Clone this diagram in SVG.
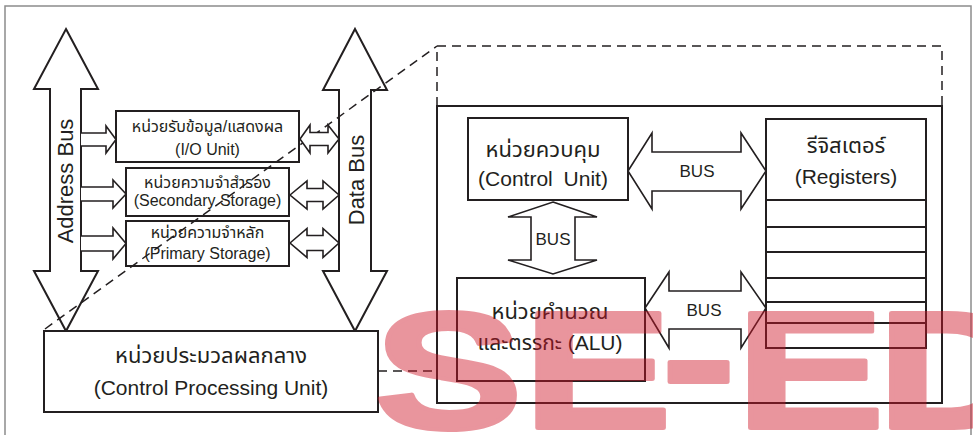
<svg xmlns="http://www.w3.org/2000/svg" width="973" height="435" viewBox="0 0 973 435">
<style>
.bg{fill:#ffffff}
.frame{fill:none;stroke:#8c8c8c;stroke-width:1.5}
.box{fill:#ffffff;stroke:#231f20;stroke-width:2}
.arr{fill:#ffffff;stroke:#231f20;stroke-width:1.6;stroke-linejoin:miter}
.bus{fill:#ffffff;stroke:#231f20;stroke-width:2;stroke-linejoin:miter}
.dash{fill:none;stroke:#231f20;stroke-width:1.5;stroke-dasharray:9 6}
.ln{fill:none;stroke:#231f20;stroke-width:1.8}
text{font-family:'Liberation Sans','Noto Sans Thai','Noto Sans',sans-serif;fill:#231f20;text-anchor:middle}
.s{font-size:16px}
.m{font-size:21px}
.t{font-size:22px}
.b{font-size:17px}
.bl{font-size:22px}
.wm{font-family:'Liberation Sans',Arial,sans-serif;font-weight:bold;font-size:168px;fill:#cf1628;stroke:#cf1628;stroke-width:4;stroke-linejoin:round;text-anchor:start}
</style>
<rect class="bg" x="0" y="0" width="973" height="435"/>
<rect class="frame" x="5" y="6" width="966" height="440"/>

<g id="address-bus">
<path class="bus" d="M66,29 L98,89 L81,89 L81,271 L98,271 L66,331 L34,271 L50,271 L50,89 L34,89 Z"/>
<text class="bl" transform="translate(73,181) rotate(-90)">Address Bus</text>
</g>
<g id="data-bus">
<path class="bus" d="M355,29 L387,90 L371,90 L371,271 L387,271 L355,331 L323,271 L339,271 L339,90 L323,90 Z"/>
<text class="bl" transform="translate(364,180) rotate(-90)">Data Bus</text>
</g>

<g id="io-unit">
<rect class="box" x="116" y="111" width="183" height="51"/>
<text class="s" x="207.5" y="132">หน่วยรับข้อมูล/แสดงผล</text>
<text class="s" x="207.5" y="155">(I/O Unit)</text>
</g>
<g id="secondary-storage">
<rect class="box" x="126" y="168" width="163" height="48"/>
<text class="s" x="207.5" y="188">หน่วยความจำสำรอง</text>
<text class="s" x="207.5" y="206">(Secondary Storage)</text>
</g>
<g id="primary-storage">
<rect class="box" x="126" y="221" width="163" height="45"/>
<text class="s" x="207.5" y="238">หน่วยความจำหลัก</text>
<text class="s" x="207.5" y="259">(Primary Storage)</text>
</g>

<g id="cpu">
<rect class="box" x="44" y="331" width="334" height="81"/>
<text class="t" x="211" y="363">หน่วยประมวลผลกลาง</text>
<text class="m" x="211" y="395">(Control Processing Unit)</text>
</g>

<g id="cpu-detail">
<rect class="box" x="437" y="106" width="505" height="297"/>
</g>

<g id="control-unit">
<rect class="box" x="468" y="118" width="160" height="82"/>
<text class="t" x="543" y="157">หน่วยควบคุม</text>
<text class="m" x="543" y="186" word-spacing="5">(Control Unit)</text>
</g>

<g id="registers">
<rect class="box" x="766" y="119" width="160" height="229"/>
<path class="ln" d="M766,200 H926 M766,227 H926 M766,252 H926 M766,278 H926 M766,302 H926 M766,323 H926"/>
<text class="t" x="846" y="153">รีจิสเตอร์</text>
<text class="m" x="846" y="184">(Registers)</text>
</g>

<g id="alu">
<rect class="box" x="457" y="278" width="188" height="103"/>
<text class="t" x="550" y="319">หน่วยคำนวณ</text>
<text class="m" x="550" y="350">และตรรกะ (ALU)</text>
</g>

<g id="connectors">
<path class="dash" d="M437,106 V46 H942 V106"/>
<path class="dash" d="M45,329 L437,46"/>
<path class="dash" d="M378,371 H437"/>

<path class="arr" d="M81,133 H106 V126 L116,139.5 L106,153 V146 H81"/>
<path class="arr" d="M81,187 H113 V180 L126,194 L113,208 V201 H81"/>
<path class="arr" d="M81,236 H113 V228 L126,243.5 L113,259 V251 H81"/>

<path class="arr" d="M300,139 L310,125 V132.5 H328 V125 L339,139 L328,153 V145.5 H310 V153 Z"/>
<path class="arr" d="M290,195 L307,181 V188.5 H323 V181 L339,195 L323,209 V201.5 H307 V209 Z"/>
<path class="arr" d="M290,243 L307,228.5 V235.5 H323 V228.5 L339,243 L323,257.5 V250.5 H307 V257.5 Z"/>

<path class="arr" d="M628,171 L652,133 V152 H741 V133 L766,171 L741,209 V191 H652 V209 Z"/>
<text class="b" x="697" y="177">BUS</text>
<path class="arr" d="M553,202 L597,217 H575 V260 H597 L553,274 L508,260 H531 V217 H508 Z"/>
<text class="b" x="553" y="245">BUS</text>
<path class="arr" d="M645,308 L669,272 V291 H741 V272 L766,308 L741,348 V329 H669 V348 Z"/>
<text class="b" x="704" y="316">BUS</text>
</g>

<g id="watermark" opacity="0.45">
<text class="wm" transform="translate(374,428) scale(1.33,1)">SE<tspan dx="-8" dy="-13">-</tspan><tspan dy="13">E</tspan><tspan dx="-6">D</tspan></text>
</g>
</svg>
